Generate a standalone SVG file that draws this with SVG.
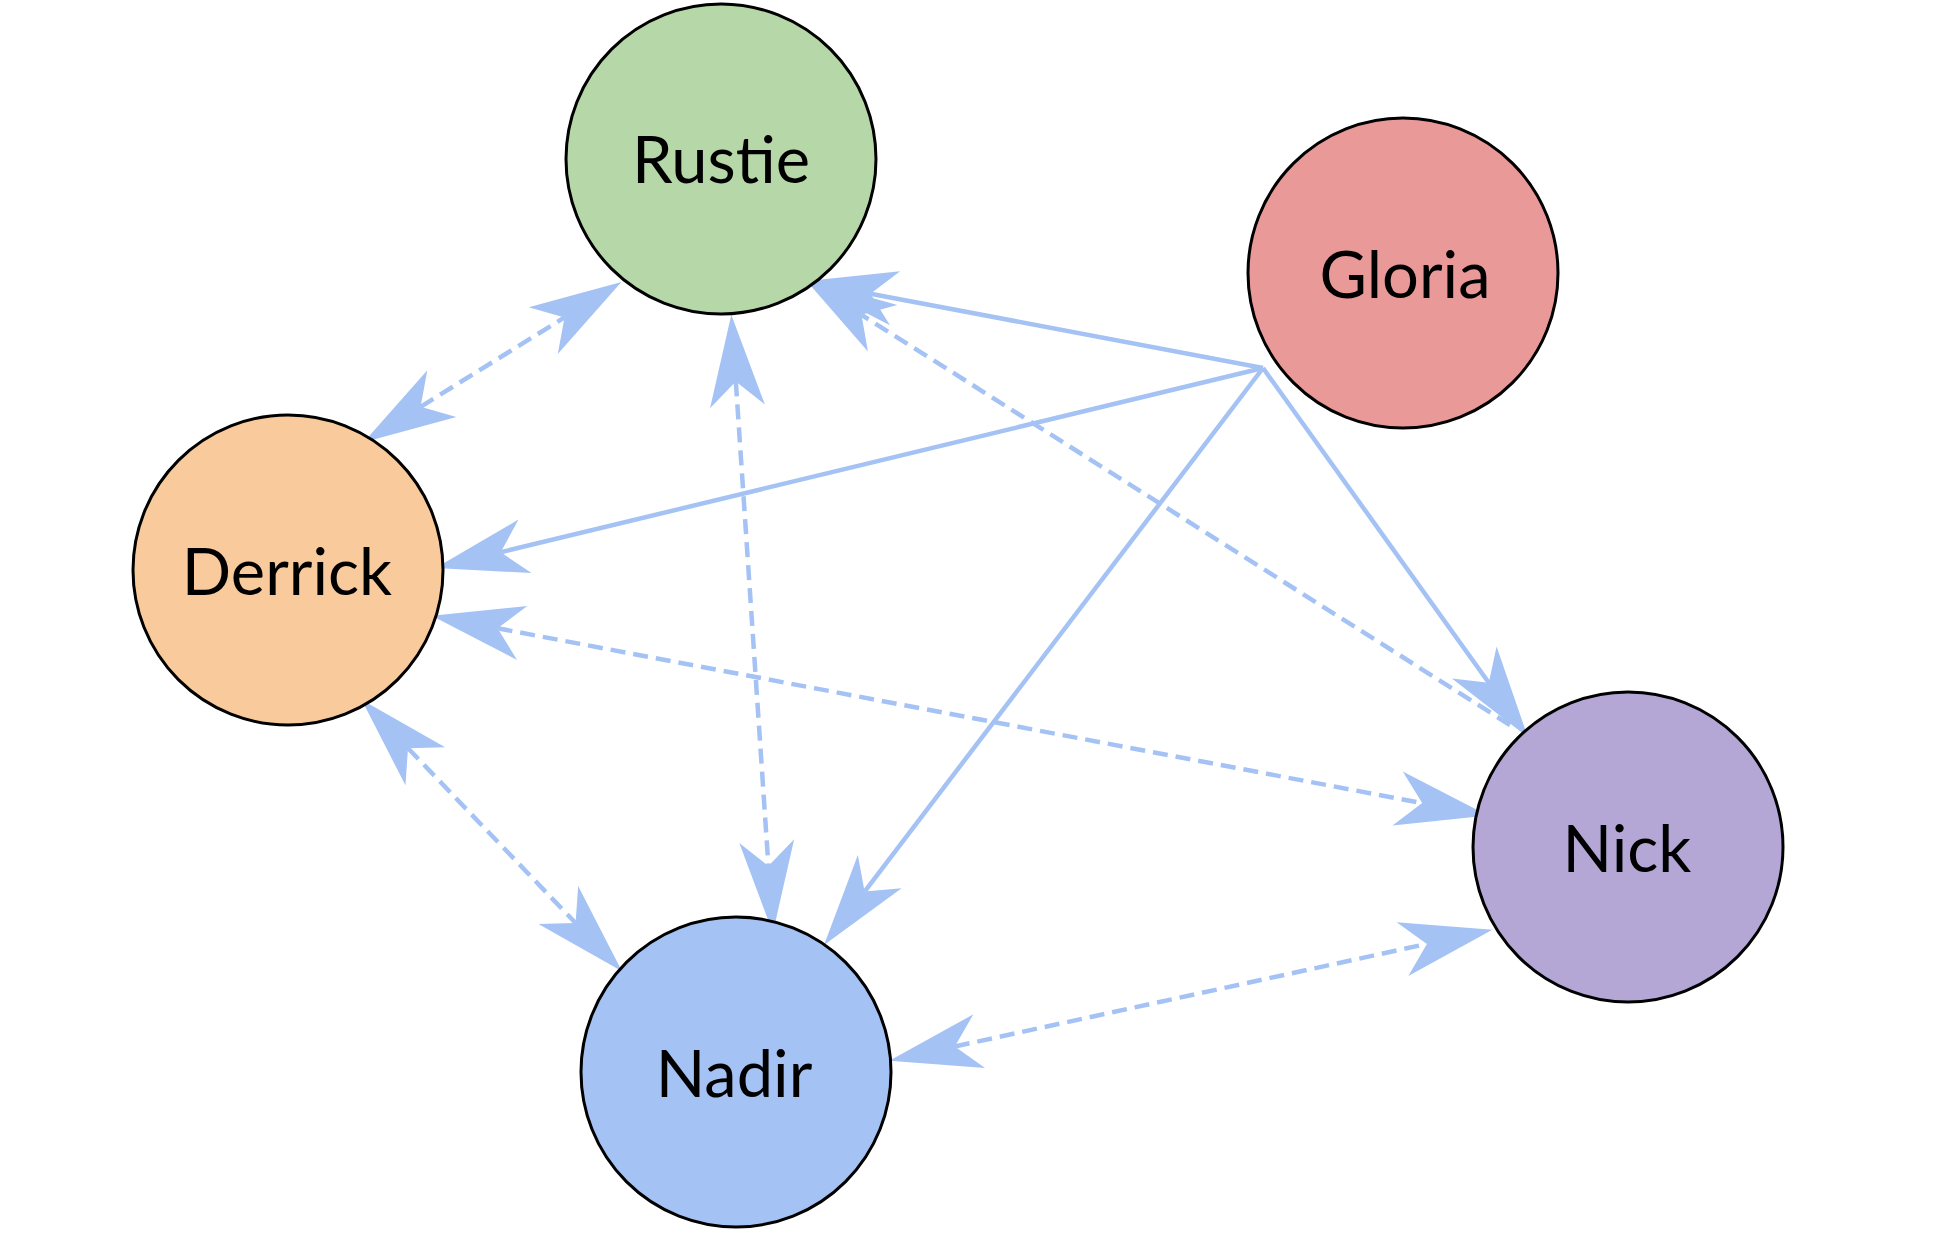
<svg xmlns="http://www.w3.org/2000/svg" width="1955" height="1244" viewBox="0 0 1955 1244">
<style>
.edge{fill:none;stroke:#a4c2f4;stroke-width:4.5}
.dash{stroke-dasharray:15 8}
.node circle{stroke:#000;stroke-width:3}
.node text{font-family:Lato,"Liberation Sans",sans-serif;font-size:65px;fill:#000;text-anchor:middle}
</style>
<defs>
<marker id="ah" markerUnits="userSpaceOnUse" viewBox="-30 -30 100 60" markerWidth="100" markerHeight="60" refX="0" refY="0" orient="auto-start-reverse">
<path d="M67,0 L-25,-27.5 L0,0 L-25,27.5 Z" fill="#a4c2f4"/>
</marker>
</defs>
<rect width="1955" height="1244" fill="#fff"/>
<g id="connectors">
<line class="edge dash" x1="420.6" y1="406.8" x2="564.5" y2="317.4" marker-start="url(#ah)" marker-end="url(#ah)"/>
<line class="edge dash" x1="735.8" y1="381.5" x2="768.4" y2="866.0" marker-start="url(#ah)" marker-end="url(#ah)"/>
<line class="edge" x1="1263" y1="368" x2="870.5" y2="293.7" marker-end="url(#ah)"/>
<line class="edge dash" x1="1510" y1="725" x2="861.5" y2="314.8" marker-end="url(#ah)"/>
<line class="edge" x1="1263" y1="368" x2="500.7" y2="552.2" marker-end="url(#ah)"/>
<line class="edge dash" x1="497.6" y1="628.3" x2="1422.2" y2="803.1" marker-start="url(#ah)" marker-end="url(#ah)"/>
<line class="edge dash" x1="408" y1="748.2" x2="575.6" y2="923.0" marker-start="url(#ah)" marker-end="url(#ah)"/>
<line class="edge" x1="1263" y1="368" x2="864.6" y2="891.6" marker-end="url(#ah)"/>
<line class="edge dash" x1="954.8" y1="1046.5" x2="1426.9" y2="943.9" marker-start="url(#ah)" marker-end="url(#ah)"/>
<line class="edge" x1="1263" y1="368" x2="1488.8" y2="682.8" marker-end="url(#ah)"/>
</g>
<g id="node-rustie" class="node"><circle cx="721" cy="159" r="155" fill="#b6d7a8"/><text x="721" y="183">Rustie</text></g>
<g id="node-gloria" class="node"><circle cx="1403" cy="273" r="155" fill="#ea9999"/><text x="1405" y="298">Gloria</text></g>
<g id="node-derrick" class="node"><circle cx="288" cy="570" r="155" fill="#f9cb9c"/><text x="287" y="595">Derrick</text></g>
<g id="node-nick" class="node"><circle cx="1628" cy="847" r="155" fill="#b4a7d6"/><text x="1627" y="872">Nick</text></g>
<g id="node-nadir" class="node"><circle cx="736" cy="1072" r="155" fill="#a4c2f4"/><text x="734" y="1097">Nadir</text></g>
</svg>
